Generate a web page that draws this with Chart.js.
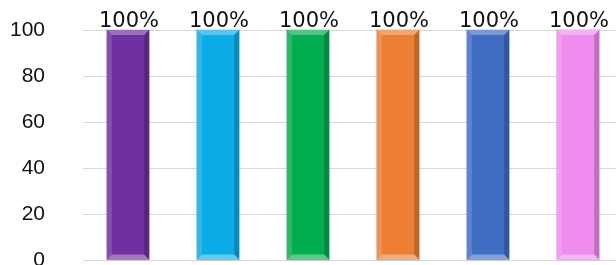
<!DOCTYPE html>
<html>
<head>
<meta charset="utf-8">
<script src="https://cdn.jsdelivr.net/npm/chart.js@4.4.1/dist/chart.umd.min.js"></script>
<style>
  html, body { margin: 0; padding: 0; background: #fff; overflow: hidden; }
  #wrap { width: 630px; height: 285px; }
</style>
</head>
<body>
<div id="wrap"><canvas id="chart"></canvas></div>
<script>
// chart data
var categories = ["A", "B", "C", "D", "E", "F"];
var values = [100, 100, 100, 100, 100, 100];
var valueLabels = ["100%", "100%", "100%", "100%", "100%", "100%"];
var barColors = ["#7030A0", "#0AADE8", "#03AE50", "#EC7F34", "#3F6DC2", "#F08CF0"];
var yTicks = [0, 20, 40, 60, 80, 100];

function shade(hex, amt) {
    var n = parseInt(hex.slice(1), 16);
    var r = (n >> 16) & 255, g = (n >> 8) & 255, b = n & 255;
    function f(c) {
        return amt >= 0 ? Math.round(c + (255 - c) * amt) : Math.round(c * (1 + amt));
    }
    return "rgb(" + f(r) + "," + f(g) + "," + f(b) + ")";
}

// bevel look + value labels on top of each bar
var bevelPlugin = {
    id: "bevel",
    afterDatasetsDraw: function (chart) {
        var ctx = chart.ctx;
        var meta = chart.getDatasetMeta(0);
        meta.data.forEach(function (bar, i) {
            var p = bar.getProps(["x", "y", "width", "base"], true);
            var l = p.x - p.width / 2, r = p.x + p.width / 2, t = p.y, b = p.base;
            var c = barColors[i];
            var e = 5;
            ctx.save();
            // left light strip
            ctx.fillStyle = shade(c, 0.15);
            ctx.beginPath();
            ctx.moveTo(l, t); ctx.lineTo(l + e, t + e); ctx.lineTo(l + e, b - e); ctx.lineTo(l, b);
            ctx.closePath(); ctx.fill();
            // right dark strip
            ctx.fillStyle = shade(c, -0.2);
            ctx.beginPath();
            ctx.moveTo(r, t); ctx.lineTo(r - e, t + e); ctx.lineTo(r - e, b - e); ctx.lineTo(r, b);
            ctx.closePath(); ctx.fill();
            // top cap
            ctx.fillStyle = shade(c, 0.3);
            ctx.beginPath();
            ctx.moveTo(l, t); ctx.lineTo(r, t); ctx.lineTo(r - e, t + e); ctx.lineTo(l + e, t + e);
            ctx.closePath(); ctx.fill();
            // bottom cap
            ctx.fillStyle = shade(c, 0.35);
            ctx.beginPath();
            ctx.moveTo(l, b); ctx.lineTo(r, b); ctx.lineTo(r - e, b - e); ctx.lineTo(l + e, b - e);
            ctx.closePath(); ctx.fill();
            // soft edge shadow
            ctx.strokeStyle = "rgba(0,0,0,0.12)";
            ctx.lineWidth = 1;
            ctx.strokeRect(l - 0.5, t - 0.5, p.width + 1, b - t + 1);
            // label
            ctx.fillStyle = "#111";
            ctx.font = "21px 'DejaVu Sans'";
            ctx.textAlign = "center";
            ctx.textBaseline = "bottom";
            ctx.fillText(valueLabels[i], p.x + 1, t + 2);
            ctx.restore();
        });
    }
};

new Chart("chart", {
    type: "bar",
    data: {
        labels: categories,
        datasets: [{
            data: values,
            backgroundColor: barColors,
            borderWidth: 0,
            categoryPercentage: 1,
            barPercentage: 0.47
        }]
    },
    options: {
        responsive: true,
        maintainAspectRatio: false,
        animation: false,
        layout: { padding: { top: 30, bottom: 25, left: 0, right: 7 } },
        plugins: { legend: { display: false }, tooltip: { enabled: false } },
        scales: {
            x: { display: false },
            y: {
                min: 0,
                max: 100,
                afterBuildTicks: function (scale) {
                    scale.ticks = yTicks.map(function (v) { return { value: v }; });
                },
                afterFit: function (scale) { scale.width = 83; },
                border: { display: false },
                grid: { color: "#d9d9d9", lineWidth: 1, drawTicks: true, tickLength: 38, tickColor: "rgba(0,0,0,0)" },
                ticks: {
                    padding: 0,
                    color: "#111",
                    font: { family: "'Liberation Sans', Arial", size: 21 }
                }
            }
        }
    },
    plugins: [bevelPlugin]
});
</script>
</body>
</html>
